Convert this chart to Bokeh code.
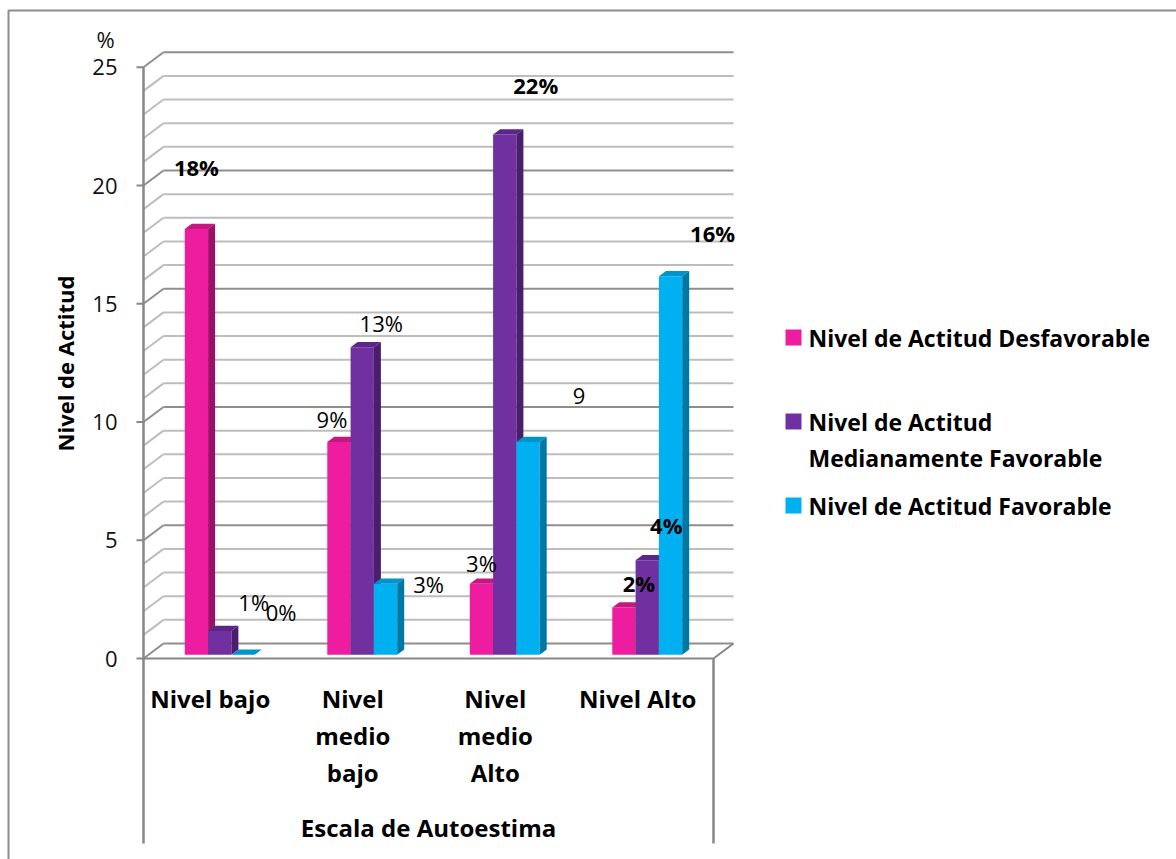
import math
from bokeh.plotting import figure
from bokeh.models import Range1d, ColumnDataSource
from bokeh.core.properties import value
from bokeh.embed import file_html
from bokeh.resources import INLINE

# ---------------- data ----------------
categories = ["Nivel bajo", "Nivel\nmedio\nbajo", "Nivel\nmedio\nAlto", "Nivel Alto"]
series_names = ["Nivel de Actitud Desfavorable",
                "Nivel de Actitud\nMedianamente Favorable",
                "Nivel de Actitud Favorable"]
desfavorable = [18, 9, 3, 2]
medianamente = [1, 13, 22, 4]
favorable = [0, 3, 9, 16]
labels_desfavorable = ["18%", "9%", "3%", "2%"]
labels_medianamente = ["1%", "13%", "22%", "4%"]
labels_favorable = ["0%", "3%", "9", "16%"]
y_ticks = [0, 5, 10, 15, 20, 25]
y_tick_labels = ["0", "5", "10", "15", "20", "25"]
y_max = 25
y_title = "Nivel de Actitud"
x_title = "Escala de Autoestima"
unit_label = "%"

# ---------------- layout / style ----------------
W, H = 1176, 859
X0, SX = 143.0, 142.5      # pixel of plot front-left corner, pixels per category slot
Y0, SY = 658.0, 23.65      # pixel of value 0 (front), pixels per unit
DEPTH_X, DEPTH_Y = 20.0, 15.0

def X(px):
    return (px - X0) / SX

def Y(py):
    return (Y0 - py) / SY

DX = DEPTH_X / SX
DY = DEPTH_Y / SY
BAR_W = 23.3 / SX
GROUP_OFF = 0.5 - 1.5 * BAR_W
D_FRONT, D_BACK = 0.25, 0.6

FONT = value("Open Sans")
face_colors = [("#EE1C9E", "#C4177F", "#9C1168"),
               ("#7030A0", "#5A2687", "#4A1E6C"),
               ("#00B0F0", "#0094CA", "#0078A4")]
# label offsets (pixels) relative to each bar's top-centre, and boldness
label_offsets = [[(0, -62), (-7, -23), (0, -21), (15, -24)],
                 [(34, -29), (19, -24), (31, -49), (19, -35)],
                 [(38, -43), (43, 0), (51, -46), (42, -43)]]
label_bold = [[True, False, False, True],
              [False, False, True, True],
              [False, False, False, True]]

GRID_MINOR = "#BDBDBD"
GRID_MAJOR = "#8E8E8E"
AXIS = "#878787"

p = figure(width=W, height=H, output_backend="svg", toolbar_location=None,
           x_range=Range1d(X(0), X(W)), y_range=Range1d(Y(H), Y(0)),
           min_border=0, background_fill_color="white", border_fill_color="white")
p.axis.visible = False
p.grid.visible = False
p.outline_line_color = None

# outer chart frame (extends past right/bottom edge)
p.line(x=[X(W + 10), X(8), X(8)], y=[Y(10), Y(10), Y(H + 10)], line_color="#8C8C8C", line_width=2)

# back wall gridlines and side wall diagonals
vals = list(range(0, y_max + 1))
minor = [v for v in vals if v % 5 != 0]
major = [v for v in vals if v % 5 == 0]
for group, col in ((minor, GRID_MINOR), (major, GRID_MAJOR)):
    p.segment(x0=[DX] * len(group), y0=[v + DY for v in group],
              x1=[len(categories) + DX] * len(group), y1=[v + DY for v in group],
              line_color=col, line_width=2)
    p.segment(x0=[0] * len(group), y0=group, x1=[DX] * len(group), y1=[v + DY for v in group],
              line_color=col, line_width=2)

# floor
nc = len(categories)
p.line(x=[0, nc, nc + DX], y=[0, 0, DY], line_color=AXIS, line_width=2)
# front value axis line (continues down as category box) and right box line
p.segment(x0=[0, nc], y0=[y_max, 0], x1=[0, nc], y1=[Y(843), Y(843)], line_color=AXIS, line_width=2.5)
# tick marks
p.segment(x0=[X(136)] * len(y_ticks), y0=y_ticks, x1=[0] * len(y_ticks), y1=y_ticks,
          line_color=AXIS, line_width=2)
p.text(x=[0] * len(y_ticks), y=y_ticks, text=y_tick_labels, x_offset=-26,
       text_align="right", text_baseline="middle", text_font=FONT, text_font_size="22px",
       text_color="#111111")

# bars
series = [desfavorable, medianamente, favorable]
series_labels = [labels_desfavorable, labels_medianamente, labels_favorable]
dd = D_BACK - D_FRONT
lab = dict(x=[], y=[], text=[], style=[])
for s, vals_s in enumerate(series):
    fxs, fys, txs, tys, sxs, sys_ = [], [], [], [], [], []
    for c, v in enumerate(vals_s):
        x0 = c + GROUP_OFF + s * BAR_W + D_FRONT * DX
        fy = D_FRONT * DY
        x1 = x0 + BAR_W
        fxs.append([x0, x1, x1, x0]); fys.append([fy, fy, v + fy, v + fy])
        txs.append([x0, x1, x1 + dd * DX, x0 + dd * DX])
        tys.append([v + fy, v + fy, v + fy + dd * DY, v + fy + dd * DY])
        sxs.append([x1, x1 + dd * DX, x1 + dd * DX, x1])
        sys_.append([fy, fy + dd * DY, v + fy + dd * DY, v + fy])
        ox, oy = label_offsets[s][c]
        lab["x"].append((x0 + x1) / 2 + ox / SX)
        lab["y"].append(v + fy - oy / SY)
        lab["text"].append(series_labels[s][c])
        lab["style"].append("bold" if label_bold[s][c] else "normal")
    front, top, side = face_colors[s]
    p.patches(xs=fxs, ys=fys, fill_color=front, line_color=None)
    p.patches(xs=txs, ys=tys, fill_color=top, line_color=None)
    p.patches(xs=sxs, ys=sys_, fill_color=side, line_color=None)

p.text(x="x", y="y", text="text", source=ColumnDataSource(lab), text_font_style="style",
       text_align="center", text_baseline="middle", text_font=FONT, text_font_size="22px",
       text_color="#000000")

# category labels
cx, cy, ct = [], [], []
for c, name in enumerate(categories):
    for i, line in enumerate(name.split("\n")):
        cx.append(c + 0.5 - 4.5 / SX)
        cy.append(Y(698 + 37 * i))
        ct.append(line)
p.text(x=cx, y=cy, text=ct, text_align="center", text_baseline="middle", text_font=FONT,
       text_font_size="24px", text_font_style="bold", text_color="#000000")

# axis titles
p.text(x=[nc / 2], y=[Y(827)], text=[x_title], text_align="center", text_baseline="middle",
       text_font=FONT, text_font_size="24px", text_font_style="bold", text_color="#000000")
p.text(x=[X(64)], y=[Y(363)], text=[y_title], angle=math.pi / 2, text_align="center",
       text_baseline="middle", text_font=FONT, text_font_size="22px", text_font_style="bold",
       text_color="#000000")
p.text(x=[X(105)], y=[Y(38)], text=[unit_label], text_align="center", text_baseline="middle",
       text_font=FONT, text_font_size="22px", text_color="#111111")

# legend
row_y = [337, 421, 505]
for s, name in enumerate(series_names):
    p.scatter(x=[X(793)], y=[Y(row_y[s])], marker="square", size=16,
              fill_color=face_colors[s][0], line_color=None)
    lines = name.split("\n")
    p.text(x=[X(808)] * len(lines), y=[Y(row_y[s] + 36 * i) for i in range(len(lines))],
           text=lines, text_align="left", text_baseline="middle", text_font=FONT,
           text_font_size="23px", text_font_style="bold", text_color="#000000")

open("out.html", "w").write(file_html(p, INLINE))
